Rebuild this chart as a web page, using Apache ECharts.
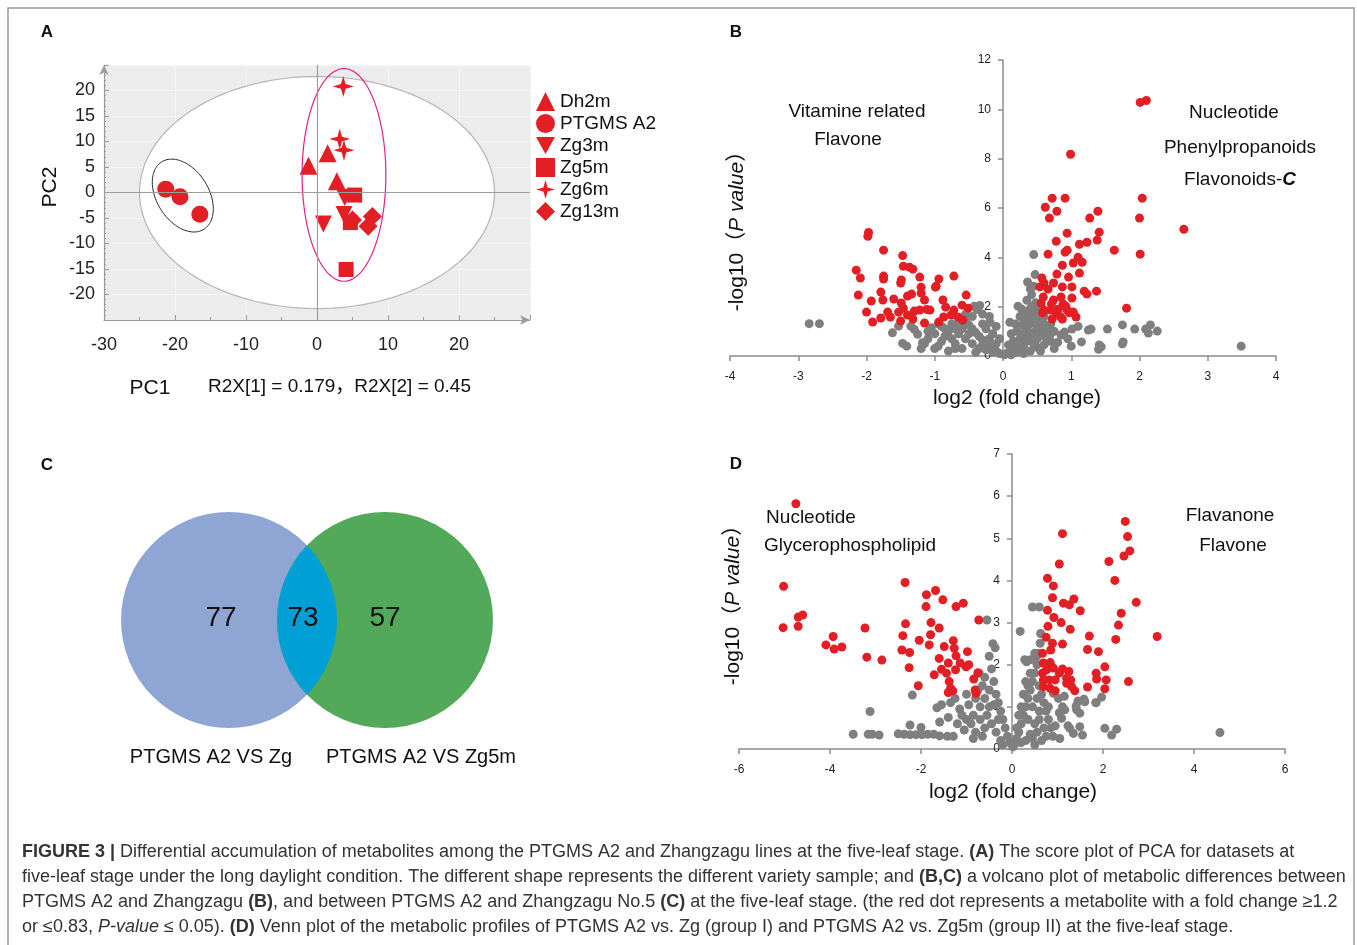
<!DOCTYPE html>
<html>
<head>
<meta charset="utf-8">
<title>Figure 3</title>
<script src="https://cdn.jsdelivr.net/npm/echarts@6/dist/echarts.min.js"></script>
<style>
html, body { margin: 0; padding: 0; background: #fff; }
#chart { width: 1357px; height: 945px; }
</style>
</head>
<body>
<div id="chart"></div>
<script>
// ---------- panel A: PCA score plot ----------
const groupNames = ["Dh2m", "PTGMS A2", "Zg3m", "Zg5m", "Zg6m", "Zg13m"];
const dh2m = [[-1.2, 5.25], [1.5, 7.7], [2.8, 2.2]];
const ptgms = [[-21.3, 0.66], [-19.3, -0.85], [-16.5, -4.26]];
const zg3m = [[0.9, -6.2], [3.9, -1.0], [3.8, -4.3]];
const zg5m = [[5.3, -0.5], [4.7, -5.9], [4.1, -15.1]];
const zg6m = [[3.7, 20.8], [3.2, 10.5], [3.8, 8.3]];
const zg13m = [[5.0, -5.4], [7.8, -4.7], [7.2, -6.6]];
// ellipses: centre x, centre y, semi-axis x, semi-axis y, tilt (deg)
const ellipseT2 = [0, 0, 25, 22.75, 0];
const ellipsePTGMS = [-18.9, -0.6, 5.6, 5.1, 58];
const ellipseZg = [3.8, 3.45, 5.9, 20.85, 0];

// ---------- panel B: volcano PTGMS A2 vs Zg ----------
const sigB = [
  [2.01,10.28],[2.1,10.36],[0.99,8.18],[0.72,6.4],[0.91,6.4],[2.04,6.4],[0.62,6.03],[0.79,5.87],[0.68,5.59],
  [1.39,5.87],[1.27,5.59],[2.0,5.59],[2.65,5.14],[0.94,4.98],[1.41,5.02],[0.78,4.65],[1.12,4.53],[1.23,4.61],
  [1.38,4.7],[0.66,4.13],[0.91,4.21],[0.94,4.29],[1.63,4.29],[2.01,4.13],[1.03,3.77],[1.1,4.0],[1.16,3.8],
  [0.87,3.68],[1.12,3.36],[0.79,3.32],[0.96,3.2],[0.57,3.16],[0.6,2.96],[0.74,2.96],[0.87,2.8],[1.01,2.8],
  [0.54,2.8],[0.66,2.71],[1.19,2.63],[1.23,2.51],[1.37,2.63],[0.59,2.39],[0.74,2.27],[0.85,2.39],[1.01,2.35],
  [0.56,2.15],[0.71,2.11],[0.88,2.11],[1.81,1.94],[0.69,1.86],[0.81,1.9],[0.94,1.86],[1.03,1.78],[0.72,1.5],
  [0.87,1.5],[1.07,1.58],[0.6,1.86],[0.78,1.75],[0.97,1.75],[0.84,1.59],[0.58,1.75],[0.92,2.02],
  [-1.97,5.01],[-1.98,4.85],[-1.75,4.29],[-1.47,4.07],[-2.15,3.48],[-2.09,3.16],[-1.75,3.24],[-1.75,3.12],
  [-1.49,3.08],[-1.5,2.96],[-1.46,3.64],[-1.37,3.6],[-1.32,3.52],[-1.22,3.2],[-0.94,3.12],[-0.72,3.24],
  [-2.12,2.47],[-1.93,2.23],[-2.0,1.78],[-1.91,1.38],[-1.79,1.54],[-1.79,2.59],[-1.76,2.27],[-1.69,1.78],
  [-1.65,1.58],[-1.6,2.31],[-1.49,2.15],[-1.4,2.43],[-1.34,2.51],[-1.53,1.78],[-1.46,1.94],[-1.4,1.66],
  [-1.5,1.42],[-1.32,1.5],[-1.2,2.79],[-1.2,2.55],[-1.15,2.27],[-1.22,1.86],[-1.07,1.86],[-1.15,1.34],
  [-0.99,2.79],[-0.88,2.27],[-0.84,1.98],[-0.94,1.38],[-0.87,1.58],[-0.76,1.66],[-0.72,1.86],[-0.66,1.58],
  [-0.6,2.06],[-0.54,2.47],[-0.51,1.94],[-0.59,1.46],[-1.3,1.82],[-1.12,1.89],[-0.98,2.83]
];
const restB = [
  [-2.84,1.31],[-2.69,1.31],[3.49,0.4],
  [1.53,1.09],[1.75,1.26],[1.93,1.09],[2.09,1.09],[2.13,0.93],[2.16,1.26],[2.26,1.01],[1.75,0.49],[1.41,0.45],
  [1.44,0.37],[1.25,1.05],[1.29,1.09],[1.15,0.57],[1.0,0.4],[1.01,1.09],[0.9,0.97],[0.85,0.85],[1.4,0.27],
  [1.76,0.57],[1.1,1.2],[0.95,0.7],[0.8,0.55],[0.75,0.3],
  [0.45,4.11],[0.47,3.3],[0.36,3.0],[0.4,2.72],[0.45,2.83],[0.35,2.26],[0.42,2.49],[0.48,2.16],[0.39,1.89],
  [0.45,1.75],[0.51,1.62],[0.22,2.02],[0.27,1.91],[0.1,1.37],
  [0.05,0.1],[0.1,0.2],[0.15,0.35],[0.2,0.5],[0.25,0.7],[0.3,0.9],[0.35,1.1],[0.4,1.3],[0.45,1.45],[0.5,1.2],
  [0.55,1.0],[0.6,0.8],[0.65,0.6],[0.7,0.9],[0.6,1.3],[0.55,1.5],[0.3,0.4],[0.35,0.6],[0.4,0.8],[0.45,0.95],
  [0.5,0.7],[0.25,0.3],[0.2,0.15],[0.15,0.6],[0.12,0.9],[0.2,1.0],[0.28,1.25],[0.32,1.5],[0.38,1.65],[0.25,1.6],
  [0.18,1.3],[0.08,0.45],[0.3,0.1],[0.4,0.2],[0.5,0.35],[0.6,0.45],[0.7,0.6],[0.55,0.2],[0.45,0.5],[0.65,1.1],
  [0.7,1.3],[0.75,1.0],[0.6,1.6],[0.5,1.85],[0.42,2.0],[0.3,1.8],[0.02,0.05],[0.12,0.05],
  [-0.05,0.1],[-0.1,0.2],[-0.15,0.3],[-0.2,0.4],[-0.25,0.5],[-0.3,0.65],[-0.35,0.8],[-0.4,0.95],[-0.45,1.1],
  [-0.5,1.25],[-0.55,1.4],[-0.6,1.5],[-0.42,2.02],[-0.38,1.89],[-0.34,2.05],[-0.19,1.37],[-0.25,1.1],[-0.3,1.3],
  [-0.15,0.9],[-0.2,0.7],[-0.1,0.5],[-0.35,0.3],[-0.45,0.5],[-0.55,0.7],[-0.65,0.9],[-0.7,1.1],[-0.75,1.3],
  [-0.8,1.0],[-0.85,0.8],[-0.9,0.6],[-0.95,0.4],[-1.0,0.9],[-1.05,1.15],[-1.1,0.7],[-1.15,0.5],[-1.2,0.3],
  [-1.25,0.88],[-1.3,1.08],[-1.35,1.21],[-1.41,0.4],[-1.47,0.51],[-1.53,1.21],[-1.62,0.94],[-1.18,0.54],
  [-0.6,0.3],[-0.7,0.5],[-0.5,0.9],[-0.65,1.3],[-0.9,1.2],[-1.0,0.3],[-0.8,0.2],[-0.4,0.15],[-0.25,0.25],
  [-0.55,1.7],[-0.45,1.6],[-0.3,1.7],[-0.2,1.6],[-0.1,1.2],[-0.05,0.7],[-0.75,0.7],[-0.85,1.1],[-0.6,1.1],
  [-0.7,0.3],[-1.1,1.0],[-0.95,1.3],[-0.15,0.15],[-0.3,0.45]
];

// ---------- panel D: volcano PTGMS A2 vs Zg5m ----------
const sigD = [
  [-4.75,5.82],[-5.02,3.86],[-5.03,2.88],[-4.7,2.91],[-4.7,3.13],[-4.6,3.18],[-3.93,2.67],[-4.09,2.47],
  [-3.91,2.37],[-3.74,2.42],[-3.23,2.87],[-3.19,2.18],[-2.86,2.11],[-2.35,3.95],[-2.34,2.97],[-2.4,2.69],
  [-2.42,2.35],[-2.25,2.29],[-2.26,1.93],[-2.04,2.58],[-2.06,1.5],[-1.88,3.66],[-1.89,3.38],[-1.68,3.76],
  [-1.52,3.54],[-1.78,3.0],[-1.79,2.71],[-1.82,2.47],[-1.6,2.87],[-1.71,1.76],[-1.23,3.38],[-1.07,3.46],
  [-1.49,2.43],[-1.29,2.57],[-1.27,2.39],[-1.23,2.21],[-1.6,2.15],[-1.4,2.04],[-1.55,1.89],[-1.44,1.8],
  [-1.24,1.88],[-1.14,2.04],[-0.98,2.31],[-0.95,2.0],[-1.38,1.6],[-1.35,1.44],[-1.4,1.34],[-1.3,1.38],
  [-1.01,1.95],[-0.84,1.66],[-0.75,1.81],[-0.79,1.32],[-0.81,1.4],[-0.73,3.06],
  [2.49,5.4],[1.11,5.11],[2.54,5.04],[2.59,4.7],[2.46,4.58],[2.13,4.45],[1.04,4.39],[2.26,4.0],[0.78,4.05],
  [0.91,3.87],[0.89,3.59],[1.13,3.46],[1.26,3.42],[1.36,3.56],[1.5,3.28],[2.73,3.48],[0.78,3.29],[0.92,3.12],
  [1.08,3.0],[2.4,3.22],[2.34,2.94],[0.79,2.91],[1.28,2.84],[1.7,2.68],[3.19,2.67],[2.28,2.6],[0.75,2.65],
  [0.89,2.51],[1.11,2.49],[1.66,2.36],[1.9,2.31],[0.67,2.27],[0.85,2.35],[0.69,2.04],[0.84,2.05],[2.04,1.95],
  [1.11,1.9],[1.25,1.84],[1.04,1.8],[1.2,1.68],[1.29,1.64],[0.67,1.8],[0.76,1.88],[0.91,1.92],[0.69,1.64],
  [0.82,1.64],[0.95,1.64],[1.85,1.8],[1.86,1.66],[2.07,1.64],[2.56,1.6],[0.69,1.48],[0.84,1.44],[0.95,1.38],
  [1.38,1.38],[1.66,1.47],[2.04,1.43],[1.2,1.56],[1.31,1.48]
];
const restD = [
  [4.57,0.39],
  [-3.49,0.35],[-3.16,0.35],[-3.07,0.35],[-2.92,0.33],[-2.5,0.36],[-2.37,0.35],[-2.24,0.34],[-2.11,0.34],
  [-1.98,0.34],[-1.85,0.35],[-1.72,0.35],[-1.59,0.31],[-1.42,0.3],[-1.29,0.3],
  [-3.12,0.89],[-2.19,1.28],[-2.24,0.57],[-2.0,0.51],[-1.59,0.64],[-1.65,0.98],[-1.55,1.05],[-1.35,1.1],
  [-1.25,1.2],[-1.15,0.95],[-1.1,0.8],[-1.0,1.3],[-0.95,1.05],[-0.9,0.6],[-0.85,0.8],[-0.8,1.2],[-0.75,1.4],
  [-0.72,1.8],[-0.65,1.5],[-0.6,1.7],[-0.55,3.06],[-0.42,2.5],[-0.37,2.4],[-0.5,2.2],[-0.45,1.9],[-0.4,1.6],
  [-0.35,1.3],[-0.3,1.1],[-0.25,0.9],[-0.2,0.7],[-0.15,0.5],[-0.1,0.3],[-0.05,0.15],[-0.5,1.0],[-0.55,0.8],
  [-0.6,0.5],[-0.7,0.7],[-0.8,0.4],[-1.05,0.45],[-1.2,0.6],[-1.4,0.75],[-0.45,0.6],[-0.35,0.4],[-0.25,0.2],
  [-0.3,0.7],[-0.4,1.05],[-0.6,1.2],[-0.7,1.0],[-0.5,1.4],[-0.65,0.3],[-0.2,0.1],[-0.85,0.25],[-1.0,0.7],
  [0.18,2.79],[0.45,3.37],[0.6,3.37],[0.32,2.07],[0.54,2.19],[0.62,2.51],[0.58,2.27],[0.5,2.27],[0.63,2.74],
  [0.28,2.12],[0.41,2.12],[1.6,1.12],[1.85,1.1],[1.97,1.23],[2.04,0.49],[2.3,0.47],[2.19,0.33],[1.49,0.53],
  [1.55,0.33],[1.09,0.73],[1.27,0.49],[1.35,0.37],[1.05,0.25],[1.42,0.93],[1.49,0.85],[1.16,0.93],[0.91,1.32],
  [1.02,1.2],[1.11,1.0],[1.04,0.86],[1.23,0.55],[1.41,1.02],[1.45,1.14],[1.15,1.25],[1.58,1.18],[1.84,1.1],
  [0.05,0.1],[0.1,0.25],[0.15,0.4],[0.2,0.6],[0.25,0.8],[0.3,1.0],[0.35,1.2],[0.4,1.4],[0.45,1.6],[0.5,1.8],
  [0.55,2.0],[0.6,1.5],[0.65,1.3],[0.7,1.1],[0.75,0.9],[0.8,0.7],[0.85,0.5],[0.9,0.3],[0.6,0.9],[0.5,0.6],
  [0.4,0.35],[0.3,0.2],[0.2,0.15],[0.45,1.0],[0.35,0.7],[0.55,1.2],[0.25,1.3],[0.2,1.0],[0.15,0.8],[0.3,1.6],
  [0.4,1.8],[0.7,0.5],[0.8,1.0],[0.65,0.2],[0.5,0.1],[0.1,0.5],[0.35,1.5],[0.55,0.4],[0.75,0.3],[0.95,0.55],
  [0.6,0.7],[0.45,0.25],[0.02,0.05]
];

// ---------- panel C: Venn ----------
const vennSets = ["PTGMS A2 VS Zg", "PTGMS A2 VS Zg5m"];
const vennCounts = [77, 73, 57]; // only set 1, shared, only set 2

const FONT = "'Liberation Sans', Arial, 'Noto Sans CJK SC', sans-serif";
const RED = "#e31e24";
const GREY = "#7f7f7f";

var chartDom = document.getElementById("chart");
var myChart = echarts.init(chartDom, null, { renderer: "canvas" });

function ellipseRender(stroke, fill, width) {
  return function(params, api) {
    var c = api.coord([api.value(0), api.value(1)]);
    var s = api.size([api.value(2), api.value(3)]);
    var th = api.value(4) * Math.PI / 180;
    var pts = [];
    for (var k = 0; k < 144; k++) {
      var t = k / 144 * 2 * Math.PI;
      var ux = s[0] * Math.cos(t), uy = s[1] * Math.sin(t);
      pts.push([
        c[0] + ux * Math.cos(th) - uy * Math.sin(th),
        c[1] + ux * Math.sin(th) + uy * Math.cos(th),
      ]);
    }
    return {
      type: "polygon",
      shape: { points: pts },
      style: { fill: fill, stroke: stroke, lineWidth: width },
    };
  };
}

// venn: two equal circles in a hidden 420 x 300 unit box
var vennC1 = [129, 150], vennC2 = [285, 150], vennR = 108;
function vennRender(params, api) {
  var p1 = api.coord(vennC1), p2 = api.coord(vennC2);
  var r = api.size([vennR, 0])[0];
  var d = p2[0] - p1[0];
  var h = Math.sqrt(r * r - d * d / 4);
  var mx = (p1[0] + p2[0]) / 2, cy = p1[1];
  var lens = "M" + mx + "," + (cy - h)
    + " A" + r + "," + r + " 0 0 1 " + mx + "," + (cy + h)
    + " A" + r + "," + r + " 0 0 1 " + mx + "," + (cy - h) + " Z";
  var numAt = [api.coord([121, 148]), api.coord([203, 148]), api.coord([285, 148])];
  var setAt = [api.coord([111, 287]), api.coord([321, 287])];
  var kids = [
    { type: "circle", shape: { cx: p1[0], cy: p1[1], r: r }, style: { fill: "#8fa6d4" } },
    { type: "circle", shape: { cx: p2[0], cy: p2[1], r: r }, style: { fill: "#52a95a" } },
    { type: "path", shape: { pathData: lens }, style: { fill: "#00a0d6" } },
  ];
  vennCounts.forEach(function(v, i) {
    kids.push({
      type: "text",
      style: {
        text: String(v), x: numAt[i][0], y: numAt[i][1],
        align: "center", verticalAlign: "middle",
        textAlign: "center", textVerticalAlign: "middle",
        font: "28px " + FONT, fill: "#111",
      },
    });
  });
  vennSets.forEach(function(v, i) {
    kids.push({
      type: "text",
      style: {
        text: v, x: setAt[i][0], y: setAt[i][1],
        align: "center", verticalAlign: "middle",
        textAlign: "center", textVerticalAlign: "middle",
        font: "20px " + FONT, fill: "#111",
      },
    });
  });
  return { type: "group", children: kids };
}

function txt(x, y, text, size, opts) {
  opts = opts || {};
  var st = {
    text: text, x: 0, y: 0,
    fontSize: size, fontFamily: opts.family || FONT,
    fontWeight: opts.weight || "normal",
    fill: opts.color || "#111",
    align: opts.align || "center", verticalAlign: "middle",
    textAlign: opts.align || "center", textVerticalAlign: "middle",
  };
  if (opts.rich) st.rich = opts.rich;
  return { type: "text", x: x, y: y, rotation: opts.rotation || 0, z: 100, silent: true, style: st };
}

var yTitleRich = {
  i: { fontSize: 21, fontFamily: FONT, fontStyle: "italic", fill: "#111" },
};
var CAP = 18;
var capRich = {
  b: { fontSize: CAP, fontFamily: FONT, fontWeight: "bold", fill: "#333" },
  i: { fontSize: CAP, fontFamily: FONT, fontStyle: "italic", fill: "#333" },
};
var capLines = [
  "{b|FIGURE 3 |} Differential accumulation of metabolites among the PTGMS A2 and Zhangzagu lines at the five-leaf stage. {b|(A)} The score plot of PCA for datasets at",
  "five-leaf stage under the long daylight condition. The different shape represents the different variety sample; and {b|(B,C)} a volcano plot of metabolic differences between",
  "PTGMS A2 and Zhangzagu {b|(B)}, and between PTGMS A2 and Zhangzagu No.5 {b|(C)} at the five-leaf stage. (the red dot represents a metabolite with a fold change \u22651.2",
  "or \u22640.83, {i|P-value} \u2264 0.05). {b|(D)} Venn plot of the metabolic profiles of PTGMS A2 vs. Zg (group I) and PTGMS A2 vs. Zg5m (group II) at the five-leaf stage.",
];

var graphics = [
  {
    type: "rect", z: 0, silent: true,
    shape: { x: 8, y: 8, width: 1346, height: 980 },
    style: { fill: "none", stroke: "#9a9a9a", lineWidth: 1.5 },
  },
  txt(47, 32, "A", 17, { weight: "bold" }),
  txt(736, 32, "B", 17, { weight: "bold" }),
  txt(47, 465, "C", 17, { weight: "bold" }),
  txt(736, 464, "D", 17, { weight: "bold" }),
  txt(50, 187, "PC2", 21, { rotation: Math.PI / 2 }),
  txt(150, 388, "PC1", 21),
  txt(208, 387, "R2X[1] = 0.179\uff0cR2X[2] = 0.45", 19, { align: "left" }),
  txt(857, 112, "Vitamine related", 19),
  txt(848, 140, "Flavone", 19),
  txt(1234, 113, "Nucleotide", 19),
  txt(1240, 148, "Phenylpropanoids", 19),
  txt(1240, 180, "Flavonoids-{bi|C}", 19, {
    rich: { bi: { fontSize: 19, fontFamily: FONT, fontWeight: "bold", fontStyle: "italic", fill: "#111" } },
  }),
  txt(1017, 398, "log2 (fold change)", 21),
  txt(737, 226, "-log10\uff08{i|P value}\uff09", 21, { rotation: Math.PI / 2, rich: yTitleRich }),
  txt(811, 518, "Nucleotide", 19),
  txt(850, 546, "Glycerophospholipid", 19),
  txt(1230, 516, "Flavanone", 19),
  txt(1233, 546, "Flavone", 19),
  txt(1013, 792, "log2 (fold change)", 21),
  txt(733, 600, "-log10\uff08{i|P value}\uff09", 21, { rotation: Math.PI / 2, rich: yTitleRich }),
];
capLines.forEach(function(line, i) {
  graphics.push(txt(22, 852 + i * 25, line, CAP, { align: "left", color: "#333", rich: capRich }));
});

var symbolOf = {
  "Dh2m": ["triangle", 18],
  "PTGMS A2": ["circle", 17],
  "Zg3m": ["path://M0,0L10,0L5,9Z", 17],
  "Zg5m": ["rect", 15],
  "Zg6m": ["path://M5,0L6.1,3.9L10,5L6.1,6.1L5,10L3.9,6.1L0,5L3.9,3.9Z", 21],
  "Zg13m": ["diamond", 19],
};
var groupData = [dh2m, ptgms, zg3m, zg5m, zg6m, zg13m];

var pcaAxisLine = { onZero: false, symbol: ["none", "arrow"], symbolSize: [7, 10], lineStyle: { color: "#9b9b9b", width: 1.2 } };
var volAxisLine = { onZero: false, lineStyle: { color: "#8c8c8c", width: 1.5 } };
var volLabel = { fontSize: 12, color: "#222", fontFamily: FONT, margin: 15 };

var series = [
  {
    type: "custom", name: "T2", xAxisIndex: 0, yAxisIndex: 0, z: 1, silent: true,
    renderItem: ellipseRender("#b5b5b5", "#ffffff", 1.2), data: [ellipseT2],
    markLine: {
      silent: true, symbol: "none", label: { show: false },
      lineStyle: { color: "#9e9e9e", width: 1.2, type: "solid" },
      data: [{ xAxis: 0 }, { yAxis: 0 }],
    },
  },
];
groupNames.forEach(function(name, i) {
  series.push({
    type: "scatter", name: name, xAxisIndex: 0, yAxisIndex: 0, z: 3,
    symbol: symbolOf[name][0], symbolSize: symbolOf[name][1],
    itemStyle: { color: RED, opacity: 1 },
    data: groupData[i],
  });
});
series.push(
  { type: "custom", name: "ellA", xAxisIndex: 0, yAxisIndex: 0, z: 4, silent: true,
    renderItem: ellipseRender("#222", "none", 1), data: [ellipsePTGMS] },
  { type: "custom", name: "ellZ", xAxisIndex: 0, yAxisIndex: 0, z: 4, silent: true,
    renderItem: ellipseRender("#e4218a", "none", 1.2), data: [ellipseZg] },
  { type: "scatter", name: "B ns", xAxisIndex: 1, yAxisIndex: 1, symbolSize: 9,
    itemStyle: { color: GREY, opacity: 1 }, data: restB },
  { type: "scatter", name: "B sig", xAxisIndex: 1, yAxisIndex: 1, symbolSize: 9,
    itemStyle: { color: RED, opacity: 1 }, data: sigB },
  { type: "scatter", name: "D ns", xAxisIndex: 2, yAxisIndex: 2, symbolSize: 9,
    itemStyle: { color: GREY, opacity: 1 }, data: restD },
  { type: "scatter", name: "D sig", xAxisIndex: 2, yAxisIndex: 2, symbolSize: 9,
    itemStyle: { color: RED, opacity: 1 }, data: sigD },
  { type: "custom", name: "venn", xAxisIndex: 3, yAxisIndex: 3, silent: true,
    renderItem: vennRender, data: [[0, 0]] }
);

var option = {
  animation: false,
  backgroundColor: "#ffffff",
  textStyle: { fontFamily: FONT },
  legend: {
    data: groupNames,
    orient: "vertical", left: 531, top: 87,
    itemGap: 3, itemWidth: 19, itemHeight: 19,
    textStyle: { fontSize: 19, color: "#111", fontFamily: FONT },
    selectedMode: false,
  },
  grid: [
    { left: 104, top: 65, width: 426, height: 255, show: true, backgroundColor: "#ececec", borderWidth: 0 },
    { left: 730, top: 60, width: 546, height: 296 },
    { left: 739, top: 454, width: 546, height: 295 },
    { left: 100, top: 470, width: 420, height: 300 },
  ],
  xAxis: [
    {
      gridIndex: 0, type: "value", min: -30, max: 30, interval: 10,
      axisLine: pcaAxisLine,
      axisTick: { inside: true, length: 5, lineStyle: { color: "#9b9b9b" } },
      minorTick: { show: true, splitNumber: 2, length: 3, lineStyle: { color: "#9b9b9b" } },
      axisLabel: { fontSize: 18, color: "#222", margin: 16, showMaxLabel: false },
      splitLine: { show: true, lineStyle: { color: "#f6f6f6", width: 1 } },
    },
    {
      gridIndex: 1, type: "value", min: -4, max: 4, interval: 1,
      axisLine: volAxisLine,
      axisTick: { length: 5, lineStyle: { color: "#8c8c8c", width: 1.5 } },
      axisLabel: volLabel, splitLine: { show: false },
    },
    {
      gridIndex: 2, type: "value", min: -6, max: 6, interval: 2,
      axisLine: volAxisLine,
      axisTick: { length: 5, lineStyle: { color: "#8c8c8c", width: 1.5 } },
      axisLabel: volLabel, splitLine: { show: false },
    },
    { gridIndex: 3, type: "value", min: 0, max: 420, show: false },
  ],
  yAxis: [
    {
      gridIndex: 0, type: "value", min: -25, max: 25, interval: 5,
      axisLine: pcaAxisLine,
      axisTick: { inside: true, length: 5, lineStyle: { color: "#9b9b9b" } },
      minorTick: { show: true, splitNumber: 5, length: 2, lineStyle: { color: "#9b9b9b" } },
      axisLabel: { fontSize: 18, color: "#222", margin: 9, showMinLabel: false, showMaxLabel: false },
      splitLine: { show: true, lineStyle: { color: "#f6f6f6", width: 1.2 } },
    },
    {
      // vertical axis sits on log2FC = 0
      gridIndex: 1, type: "value", min: 0, max: 12, interval: 2, offset: -273,
      axisLine: volAxisLine,
      axisTick: { length: 5, lineStyle: { color: "#8c8c8c", width: 1.5 } },
      axisLabel: Object.assign({}, volLabel, { margin: 12 }), splitLine: { show: false },
    },
    {
      gridIndex: 2, type: "value", min: 0, max: 7, interval: 1, offset: -273,
      axisLine: volAxisLine,
      axisTick: { length: 5, lineStyle: { color: "#8c8c8c", width: 1.5 } },
      axisLabel: Object.assign({}, volLabel, { margin: 12 }), splitLine: { show: false },
    },
    { gridIndex: 3, type: "value", min: 0, max: 300, inverse: true, show: false },
  ],
  graphic: graphics,
  series: series,
};

myChart.setOption(option);

window.addEventListener("resize", function() {
  myChart.resize();
});
</script>
</body>
</html>
